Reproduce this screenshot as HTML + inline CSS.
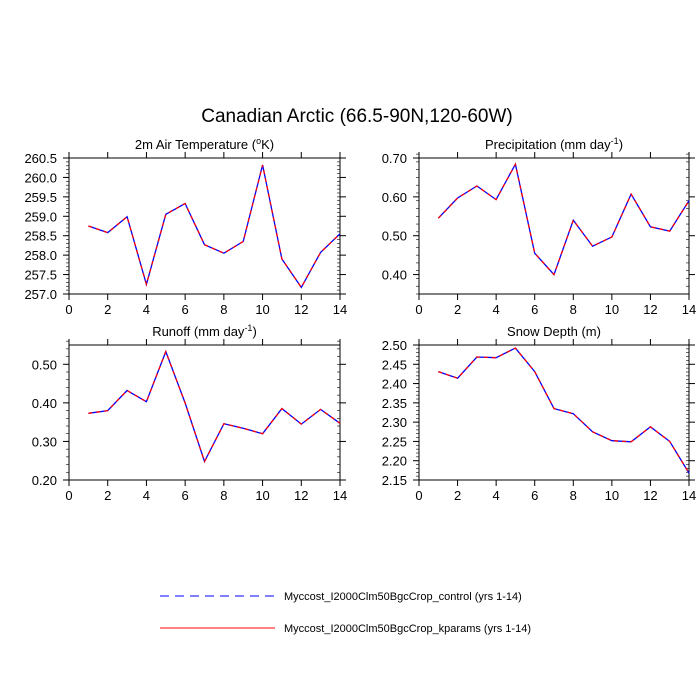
<!DOCTYPE html><html><head><style>body{margin:0;background:#fff}svg{display:block}text{font-family:"Liberation Sans",sans-serif;fill:#000}</style></head><body>
<svg width="700" height="700" xmlns="http://www.w3.org/2000/svg" id="s">
<text x="357" y="122" font-size="19" text-anchor="middle">Canadian Arctic (66.5-90N,120-60W)</text>
<g id="g"></g>
<line x1="160" y1="596" x2="275" y2="596" stroke="#00f" stroke-dasharray="9,6" stroke-width="1"/>
<text x="284" y="600" font-size="11">Myccost_I2000Clm50BgcCrop_control (yrs 1-14)</text>
<line x1="160" y1="628" x2="275" y2="628" stroke="#f00" stroke-width="1"/>
<text x="284" y="632" font-size="11">Myccost_I2000Clm50BgcCrop_kparams (yrs 1-14)</text>
</svg>
<script>
const P=[
{x0:69,x1:340,y0:158,y1:294,lo:257,hi:260.5,step:0.5,minor:0.1,dec:1,t:'2m Air Temperature (<tspan font-size="9" dy="-5">o</tspan><tspan dy="5">K)</tspan>',
d:[258.75,258.58,258.99,257.25,259.05,259.33,258.27,258.05,258.35,260.32,257.9,257.17,258.07,258.55]},
{x0:419,x1:689,y0:158,y1:294,lo:0.35,hi:0.70,step:0.1,first:0.4,minor:0.02,dec:2,t:'Precipitation (mm day<tspan font-size="9" dy="-5">-1</tspan><tspan dy="5">)</tspan>',
d:[.545,.597,.628,.593,.684,.455,.40,.54,.473,.497,.607,.523,.512,.59]},
{x0:69,x1:340,y0:345,y1:480,lo:0.2,hi:0.55,step:0.1,minor:0.02,dec:2,t:'Runoff (mm day<tspan font-size="9" dy="-5">-1</tspan><tspan dy="5">)</tspan>',
d:[.373,.38,.432,.403,.533,.40,.248,.346,.334,.32,.385,.345,.383,.347]},
{x0:419,x1:689,y0:345,y1:480,lo:2.15,hi:2.50,step:0.05,minor:0.01,dec:2,t:'Snow Depth (m)',
d:[2.431,2.414,2.469,2.467,2.492,2.431,2.335,2.322,2.275,2.252,2.249,2.288,2.25,2.168]}];
let h='';
for(const p of P){
 const X=v=>p.x0+(p.x1-p.x0)*v/14, Y=v=>p.y1-(p.y1-p.y0)*(v-p.lo)/(p.hi-p.lo);
 h+=`<rect x="${p.x0}" y="${p.y0}" width="${p.x1-p.x0}" height="${p.y1-p.y0}" fill="none" stroke="#000" stroke-width="1"/>`;
 h+=`<text x="${(p.x0+p.x1)/2}" y="${p.y0-9}" font-size="13" text-anchor="middle">${p.t}</text>`;
 for(let i=0;i<=14;i++){const x=X(i);
  if(i%2==0){h+=`<line x1="${x}" y1="${p.y1}" x2="${x}" y2="${p.y1+6}" stroke="#000"/><line x1="${x}" y1="${p.y0}" x2="${x}" y2="${p.y0-6}" stroke="#000"/><text x="${x}" y="${p.y1+20}" font-size="13" text-anchor="middle">${i}</text>`;}
 }
 const n=Math.round((p.hi-p.lo)/p.minor);
 for(let k=0;k<=n;k++){const v=p.lo+k*p.minor,y=Y(v);
  h+=`<line x1="${p.x1}" y1="${y}" x2="${p.x1-3}" y2="${y}" stroke="#000" stroke-width=".6"/><line x1="${p.x0}" y1="${y}" x2="${p.x0-3}" y2="${y}" stroke="#000" stroke-width=".6"/>`;}
 let f=p.first??p.lo;
 for(let v=f;v<=p.hi+1e-6;v+=p.step){const y=Y(v);
  h+=`<line x1="${p.x0}" y1="${y}" x2="${p.x0-6}" y2="${y}" stroke="#000"/><line x1="${p.x1}" y1="${y}" x2="${p.x1+6}" y2="${y}" stroke="#000"/><text x="${p.x0-12}" y="${y+5}" font-size="13" text-anchor="end">${v.toFixed(p.dec)}</text>`;}
 const pts=p.d.map((v,i)=>X(i+1).toFixed(1)+','+Y(v).toFixed(1)).join(' ');
 h+=`<polyline points="${pts}" fill="none" stroke="#00f" stroke-width="1.3"/><polyline points="${pts}" fill="none" stroke="#f00" stroke-width="1.3" stroke-dasharray="4,4"/>`;
}
document.getElementById('g').innerHTML=h;
</script>
</body></html>
